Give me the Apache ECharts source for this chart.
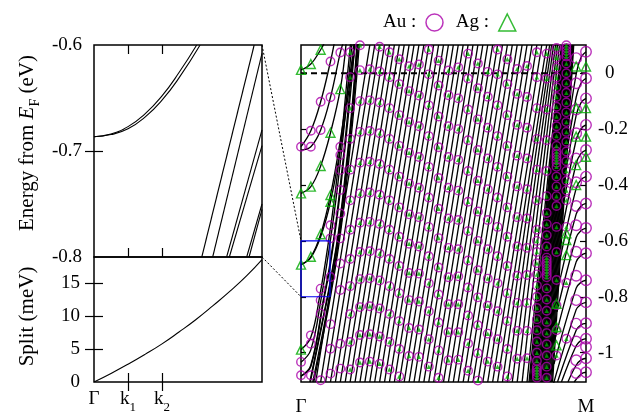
<!DOCTYPE html>
<html><head><meta charset="utf-8">
<script src="https://cdn.jsdelivr.net/npm/echarts@6/dist/echarts.min.js"></script>
<style>html,body{margin:0;padding:0;background:#fff}#c{width:644px;height:420px}</style>
</head><body><div id="c"></div>
<script>
// ================= DATA =================
// Left panels: k in units of k1 (Γ=0, k1=1, k2=2)
const leftK = {min: 0, max: 4.94};
const leftXTicks = [0, 1, 2];
const leftXLabels = ['Γ', 'k1', 'k2'];
const zoomE = {min: -0.8, max: -0.6};
const zoomETicks = [-0.8, -0.7, -0.6];
const zoomBandA = [[0,-0.6865],[0.5,-0.684],[1,-0.677],[1.5,-0.665],[2,-0.648],[2.5,-0.626],[3.02,-0.6]];
const zoomBandB = [[0,-0.6865],[0.5,-0.6845],[1,-0.679],[1.5,-0.668],[2,-0.652],[2.5,-0.631],[3.12,-0.6]];
const zoomSteep = [
  [[3.17,-0.8],[4.71,-0.6]],
  [[3.49,-0.8],[4.94,-0.608]],
  [[3.90,-0.8],[4.94,-0.680]],
  [[3.98,-0.8],[4.94,-0.695]],
  [[4.49,-0.8],[4.94,-0.750]],
  [[4.56,-0.8],[4.94,-0.755]]
];
const splitRange = {min: 0, max: 19};
const splitTicks = [0, 5, 10, 15];
const splitCurve = [[0,0],[0.5,1.3],[1,2.7],[1.5,4.2],[2,5.8],[2.5,7.6],[3,9.5],[3.5,11.6],[4,13.8],[4.5,16.2],[4.94,18.6]];

// Right panel: k in k-grid columns (Γ=0 ... M=29)
const bigK = {min: 0, max: 29};
const bigKTicks = [0, 29];
const bigKLabels = ['Γ', 'M'];
const bigE = {min: -1.105, max: 0.101};
const bigETicks = [-1, -0.8, -0.6, -0.4, -0.2, 0];
const zoomBox = {k: [0, 2.95], e: [-0.8, -0.6]};
const fermi = [[0, 0], [29, 0]];

// bands with minima at Γ
const gammaBands = [
  [[0,-0.685],[1,-0.657],[2,-0.576],[3,-0.436],[4,-0.24],[5,0.0],[5.5,0.12]],
  [[0,-0.685],[1,-0.66],[2,-0.585],[3,-0.46],[4,-0.27],[5,-0.03],[5.6,0.12]],
  [[0,-0.430],[1,-0.406],[2,-0.332],[3,-0.213],[4,-0.057],[4.6,0.11]],
  [[0,0.012],[1,0.033],[2,0.084],[2.4,0.11]],
  [[0,-0.263],[1,-0.206],[2,-0.102],[3,0.042],[3.4,0.11]],
  [[0,-0.275],[1,-0.263],[2,-0.203],[3,-0.086],[4,0.074],[4.3,0.11]],
  [[0,-0.989],[1,-0.945],[1.89,-0.8],[2.81,-0.6],[3.5,-0.42],[4.2,-0.2],[4.8,0.02],[5.05,0.11]],
  [[0,-1.034],[1,-0.99],[2.08,-0.8],[2.95,-0.608],[3.6,-0.44],[4.3,-0.22],[4.9,0.0],[5.2,0.11]],
  [[0,-1.084],[1,-1.045],[2.33,-0.8],[2.95,-0.68],[3.6,-0.52],[4.4,-0.27],[5.0,-0.05],[5.4,0.11]],
  [[0,-1.084],[1,-1.05],[2.38,-0.8],[2.95,-0.695],[3.7,-0.51],[4.5,-0.26],[5.1,-0.05],[5.5,0.11]],
  [[0.9,-1.105],[2.68,-0.8],[2.95,-0.75],[3.8,-0.57],[4.6,-0.33],[5.2,-0.12],[5.7,0.11]],
  [[0.95,-1.105],[2.72,-0.8],[2.95,-0.755],[3.85,-0.57],[4.65,-0.33],[5.25,-0.12],[5.75,0.11]],
  [[1.2,-1.105],[3.0,-0.78],[4.0,-0.55],[4.8,-0.3],[5.4,-0.08],[5.85,0.11]],
  [[1.3,-1.105],[3.1,-0.78],[4.1,-0.55],[4.9,-0.3],[5.5,-0.08],[5.95,0.11]]
];
// straight folded bands: column where each crosses the bottom edge and the top edge
const diagBottom = [1.5,2.0,2.5,3.0,3.5,4.0,4.5,5.0,5.5,6.0,6.5,7.0,7.5,8.0,8.5,9.0,9.5,10.0,10.5,11.0,11.5,12.0,12.5,13.0,13.5,14.0,14.5,15.0,15.5,16.0,16.5,17.0,17.5,18.0,18.5,19.0,19.5,
  20.0,20.5,21.0,21.5,22.0,22.5,23.0,
  23.2,23.3,23.4,23.5,23.6,23.7,23.8,23.9,24.0,24.1,24.2,24.3,24.4,24.5,24.6,24.7,24.8,24.9,25.0,25.1,25.2,25.3,25.4,25.5,25.6];
const diagTop = [7.0,7.5,8.0,8.5,9.0,9.5,10.0,10.5,11.0,11.5,12.0,12.5,13.0,13.5,14.0,14.5,15.0,15.5,16.0,16.5,17.0,17.5,18.0,18.5,19.0,19.5,20.0,20.5,21.0,21.5,22.0,22.5,23.0,23.5,24.0,24.5,25.0,
  25.3,25.5,25.7,25.9,26.1,26.3,26.5,
  26.55,26.6,26.65,26.7,26.75,26.8,26.85,26.9,26.95,27.0,27.05,27.1,27.15,27.2,27.25,27.3,27.35,27.4,27.45,27.5,27.55,27.6,27.65,27.7,27.75];
// bands bending to a flat top at M
const mBands = [
  [[27.05,-0.223],[28,-0.003],[28.5,0.057],[29,0.077]],
  [[26.9,-0.318],[28,-0.086],[28.5,-0.035],[29,-0.018]],
  [[26.78,-0.39],[28,-0.151],[28.5,-0.105],[29,-0.09]],
  [[26.63,-0.485],[28,-0.238],[28.5,-0.198],[29,-0.185]],
  [[26.49,-0.575],[28,-0.323],[28.5,-0.287],[29,-0.275]],
  [[26.34,-0.67],[28,-0.412],[28.5,-0.381],[29,-0.37]],
  [[26.18,-0.766],[28,-0.504],[28.5,-0.475],[29,-0.466]],
  [[26.04,-0.854],[28,-0.588],[28.5,-0.563],[29,-0.554]],
  [[25.9,-0.944],[28,-0.675],[28.5,-0.652],[29,-0.644]],
  [[25.74,-1.041],[28,-0.769],[28.5,-0.748],[29,-0.741]],
  [[25.62,-1.12],[28,-0.846],[28.5,-0.827],[29,-0.82]],
  [[26.1,-1.105],[28,-0.92],[28.5,-0.9],[29,-0.895]],
  [[26.5,-1.105],[28,-0.975],[28.5,-0.956],[29,-0.95]],
  [[27.16,-1.105],[28,-1.045],[28.5,-1.026],[29,-1.02]],
  [[27.8,-1.105],[28.5,-1.076],[29,-1.07]]
];

// Au-weighted states (circles): per k column, energies
const auColumns = [
  [0, [-0.263,-1.033,-1.081]],
  [1, [-0.263,-0.206,-0.938,-0.968,-1.081]],
  [2, [-0.203,-0.102,-0.771,-0.812,-0.86,-1.099]],
  [3, [0.042,-0.086,-0.544,-0.591,-0.729,-0.898,-0.986,-1.075]],
  [4, [0.074,-0.263,-0.293,-0.346,-0.418,-0.502,-0.591,-0.681,-0.776,-0.968,-1.057]],
  [5, [0.075,-0.014,-0.125,-0.235,-0.345,-0.455,-0.56,-0.665,-0.762,-0.862,-0.962,-1.06]],
  [6, [0.1,0.011,-0.1,-0.21,-0.32,-0.43,-0.535,-0.64,-0.737,-0.837,-0.937,-1.035]],
  [7, [0.014,-0.097,-0.207,-0.317,-0.427,-0.532,-0.637,-0.734,-0.834,-0.934,-1.032]],
  [8, [0.095,0.006,-0.105,-0.215,-0.325,-0.435,-0.54,-0.645,-0.742,-0.842,-0.942,-1.04]],
  [9, [0.075,-0.014,-0.125,-0.235,-0.345,-0.455,-0.56,-0.665,-0.762,-0.862,-0.962,-1.06]],
  [10, [0.05,-0.039,-0.15,-0.26,-0.37,-0.48,-0.585,-0.69,-0.787,-0.887,-0.987,-1.085]],
  [11, [0.025,-0.064,-0.175,-0.285,-0.395,-0.505,-0.61,-0.715,-0.812,-0.912,-1.012]],
  [12, [0.031,-0.08,-0.19,-0.3,-0.41,-0.515,-0.62,-0.717,-0.817,-0.917,-1.015]],
  [13, [0.085,-0.004,-0.115,-0.225,-0.335,-0.445,-0.55,-0.655,-0.752,-0.852,-0.952,-1.05]],
  [14, [0.045,-0.044,-0.155,-0.265,-0.375,-0.485,-0.59,-0.695,-0.792,-0.892,-0.992,-1.09]],
  [15, [0.01,-0.079,-0.19,-0.3,-0.41,-0.52,-0.625,-0.73,-0.827,-0.927,-1.027]],
  [16, [0.021,-0.09,-0.2,-0.31,-0.42,-0.525,-0.63,-0.727,-0.827,-0.927,-1.025]],
  [17, [0.07,-0.019,-0.13,-0.24,-0.35,-0.46,-0.565,-0.67,-0.767,-0.867,-0.967,-1.065]],
  [18, [0.035,-0.054,-0.165,-0.275,-0.385,-0.495,-0.6,-0.705,-0.802,-0.902,-1.002,-1.1]],
  [19, [0.005,-0.084,-0.195,-0.305,-0.415,-0.525,-0.63,-0.735,-0.832,-0.932,-1.032]],
  [20, [0.085,-0.004,-0.115,-0.225,-0.335,-0.445,-0.55,-0.655,-0.752,-0.852,-0.952,-1.05]],
  [21, [0.05,-0.039,-0.15,-0.26,-0.37,-0.48,-0.585,-0.69,-0.787,-0.887,-0.987,-1.085]],
  [22, [0.015,-0.074,-0.185,-0.295,-0.405,-0.515,-0.62,-0.725,-0.822,-0.922,-1.022]],
  [23, [0.026,-0.085,-0.195,-0.305,-0.415,-0.52,-0.625,-0.722,-0.822,-0.922,-1.02]],
  [24, [0.075,-0.014,-0.125,-0.235,-0.345,-0.455,-0.56,-0.6,-0.64,-0.68,-0.72,-0.76,-0.8,-0.84,-0.88,-0.92,-0.96,-1.0,-1.03,-1.05,-1.06,-1.07,-1.08,-1.09]],
  [25, [0.07,-0.02,-0.13,-0.24,-0.35,-0.44,-0.5,-0.54,-0.58,-0.62,-0.66,-0.67,-0.68,-0.69,-0.7,-0.71,-0.72,-0.73,-0.77,-0.81,-0.85,-0.89,-0.93,-0.97,-1.01,-1.05,-1.09]],
  [26, [0.09,0.055,0.02,-0.015,-0.05,-0.085,-0.12,-0.155,-0.19,-0.225,-0.26,-0.28,-0.29,-0.3,-0.31,-0.32,-0.335,-0.37,-0.405,-0.44,-0.475,-0.55,-0.64,-0.74,-0.83,-0.92,-1.01]],
  [27, [0.1,0.09,0.08,0.07,0.06,0.035,0.0,-0.035,-0.07,-0.105,-0.14,-0.175,-0.21,-0.245,-0.28,-0.315,-0.35,-0.385,-0.42,-0.455,-0.55,-0.75,-0.95]],
  [28, [0.054,-0.036,-0.13,-0.215,-0.305,-0.39,-0.475,-0.544,-0.639,-0.725,-0.812,-0.896,-0.96,-1.027,-1.073]],
  [29, [0.077,-0.018,-0.09,-0.185,-0.275,-0.37,-0.466,-0.554,-0.644,-0.741,-0.82,-0.895,-0.95,-0.98,-1.02,-1.07]]
];
// columns where the Au circles also carry a small Ag weight marker
const agSmallCols = [5,6,7,8,9,10,11,12,13,14,15,16,17,18,19,20,21,22,23,24,25,26,27];
// Ag-dominated states (large open triangles)
const agTriangles = [[0,0.012],[1,0.033],[2,0.084],[0,-0.430],[1,-0.406],[2,-0.332],[3,-0.213],[4,-0.057],
  [0,-0.685],[1,-0.657],[2,-0.576],[3,-0.436],[3,-0.46],[0,-0.989],
  [28,0.024],[29,0.024],[28,-0.125],[29,-0.125],[28,-0.227],[29,-0.227],[29,-0.299],[28,-0.329],[28,-0.4],
  [27,-0.573],[27,-0.597],[27,-0.651],[26,-0.825],[26,-0.908],[26,-0.974]];

// ================= CHART =================
const FONT = 'Liberation Serif';
const MAG = '#aa00aa', GRN = '#00aa00';
const chart = echarts.init(document.getElementById('c'));
const noLine = {show: false};
const tick = (vals, len) => ({show: true, inside: true, length: len, customValues: vals, lineStyle: {color: '#000', width: 1.2}});
const noLabel = {show: false};

const grids = [
  {left: 94, top: 45, width: 168, height: 212},
  {left: 94, top: 257, width: 168, height: 125},
  {left: 301, top: 45, width: 285, height: 337}
].map(g => Object.assign(g, {show: true, borderColor: '#000', borderWidth: 1.5, backgroundColor: 'transparent', containLabel: false}));

const xAxes = [
  {gridIndex: 0, type: 'value', min: leftK.min, max: leftK.max, position: 'bottom', axisLine: noLine, splitLine: noLine, axisTick: tick([1,2], 9), axisLabel: noLabel},
  {gridIndex: 0, type: 'value', min: leftK.min, max: leftK.max, position: 'top', axisLine: noLine, splitLine: noLine, axisTick: tick([1,2], 9), axisLabel: noLabel},
  {gridIndex: 1, type: 'value', min: leftK.min, max: leftK.max, position: 'bottom', axisLine: noLine, splitLine: noLine, axisTick: tick([1,2], 9),
    axisLabel: {show: true, customValues: leftXTicks, margin: 8, fontFamily: FONT, fontSize: 19, color: '#000',
      formatter: v => { const s = leftXLabels[leftXTicks.indexOf(v)]; return s.length > 1 ? '{k|' + s[0] + '}{s|' + s.slice(1) + '}' : '{k|' + s + '}'; },
      rich: {k: {fontFamily: FONT, fontSize: 19, color: '#000', verticalAlign: 'top', lineHeight: 24}, s: {fontFamily: FONT, fontSize: 13, color: '#000', verticalAlign: 'bottom', lineHeight: 24}}}},
  {gridIndex: 1, type: 'value', min: leftK.min, max: leftK.max, position: 'top', axisLine: noLine, splitLine: noLine, axisTick: tick([1,2], 9), axisLabel: noLabel},
  {gridIndex: 2, type: 'value', min: bigK.min, max: bigK.max, position: 'bottom', axisLine: noLine, splitLine: noLine, axisTick: {show: false},
    axisLabel: {show: true, customValues: bigKTicks, margin: 16, fontFamily: FONT, fontSize: 19, color: '#000', formatter: v => bigKLabels[bigKTicks.indexOf(v)]}}
];
const yAxes = [
  {gridIndex: 0, type: 'value', min: zoomE.min, max: zoomE.max, position: 'left', axisLine: noLine, splitLine: noLine, axisTick: tick([-0.7], 9),
    axisLabel: {show: true, customValues: zoomETicks, margin: 12, fontFamily: FONT, fontSize: 19, color: '#000', formatter: v => v.toFixed(1)}},
  {gridIndex: 0, type: 'value', min: zoomE.min, max: zoomE.max, position: 'right', axisLine: noLine, splitLine: noLine, axisTick: tick([-0.7], 9), axisLabel: noLabel},
  {gridIndex: 1, type: 'value', min: splitRange.min, max: splitRange.max, position: 'left', axisLine: noLine, splitLine: noLine, axisTick: tick([5,10,15], 9),
    axisLabel: {show: true, customValues: splitTicks, margin: 14, fontFamily: FONT, fontSize: 19, color: '#000', formatter: v => String(v)}},
  {gridIndex: 1, type: 'value', min: splitRange.min, max: splitRange.max, position: 'right', axisLine: noLine, splitLine: noLine, axisTick: tick([5,10,15], 9), axisLabel: noLabel},
  {gridIndex: 2, type: 'value', min: bigE.min, max: bigE.max, position: 'left', axisLine: noLine, splitLine: noLine, axisTick: tick(bigETicks, 5), axisLabel: noLabel},
  {gridIndex: 2, type: 'value', min: bigE.min, max: bigE.max, position: 'right', axisLine: noLine, splitLine: noLine, axisTick: tick(bigETicks, 6),
    axisLabel: {show: true, customValues: bigETicks, margin: 12, align: 'left', fontFamily: FONT, fontSize: 19, color: '#000',
      formatter: v => Math.abs(v) < 1e-9 ? '{p|0}' : String(+v.toFixed(1)), rich: {p: {fontFamily: FONT, fontSize: 19, color: '#000', padding: [0,0,0,7]}}}}
];

const series = [];
const lineS = (data, xi, yi, extra) => Object.assign({type: 'line', xAxisIndex: xi, yAxisIndex: yi, data: data, showSymbol: false, symbol: 'none', silent: true,
  lineStyle: {color: '#000', width: 1.1}, z: 2, animation: false}, extra || {});
const bandStyle = {color: '#000', width: 1.35};

series.push(lineS(zoomBandA, 0, 0, {smooth: true}));
series.push(lineS(zoomBandB, 0, 0, {smooth: true}));
zoomSteep.forEach(d => series.push(lineS(d, 0, 0)));
series.push(lineS(splitCurve, 2, 2, {smooth: true}));

gammaBands.forEach(d => series.push(lineS(d, 4, 4, {smooth: 0.4, lineStyle: bandStyle})));
diagBottom.forEach((b, i) => series.push(lineS([[b, bigE.min], [diagTop[i], bigE.max]], 4, 4, {lineStyle: bandStyle})));
mBands.forEach(d => series.push(lineS(d, 4, 4, {smooth: 0.4, lineStyle: bandStyle})));
series.push(lineS(fermi, 4, 4, {lineStyle: {color: '#000', width: 2, type: [6, 4]}, z: 3}));
series.push(lineS([[zoomBox.k[0], zoomBox.e[0]], [zoomBox.k[1], zoomBox.e[0]], [zoomBox.k[1], zoomBox.e[1]], [zoomBox.k[0], zoomBox.e[1]], [zoomBox.k[0], zoomBox.e[0]]], 4, 4,
  {lineStyle: {color: '#0000ee', width: 1.2}, z: 8}));

const auPts = [], agSmallPts = [];
auColumns.forEach(([c, es]) => es.forEach(e => {
  auPts.push({value: [c, e], symbolSize: c >= 28 ? 10.5 : 8.5});
  if (agSmallCols.indexOf(c) >= 0) agSmallPts.push([c, e]);
}));
series.push({name: 'Au', type: 'scatter', xAxisIndex: 4, yAxisIndex: 4, data: auPts, symbol: 'circle', symbolSize: 8.5,
  itemStyle: {color: 'transparent', borderColor: MAG, borderWidth: 1.4}, z: 6, silent: true, animation: false});
series.push({name: 'AgSmall', type: 'scatter', xAxisIndex: 4, yAxisIndex: 4, data: agSmallPts, symbol: 'triangle', symbolSize: 4.5,
  itemStyle: {color: GRN}, z: 7, silent: true, animation: false});
series.push({name: 'Ag', type: 'scatter', xAxisIndex: 4, yAxisIndex: 4, data: agTriangles, symbol: 'triangle', symbolSize: 9,
  itemStyle: {color: 'transparent', borderColor: GRN, borderWidth: 1.4}, z: 7, silent: true, animation: false});

chart.setOption({
  animation: false,
  grid: grids, xAxis: xAxes, yAxis: yAxes, series: series,
  legend: {
    left: 378, top: 8, align: 'right', itemWidth: 17, itemHeight: 17, itemGap: 12, selectedMode: false,
    textStyle: {fontFamily: FONT, fontSize: 19, color: '#000'},
    formatter: n => n + ' : ',
    data: [
      {name: 'Au', icon: 'circle', itemStyle: {color: 'transparent', borderColor: MAG, borderWidth: 1.5}},
      {name: 'Ag', icon: 'triangle', itemStyle: {color: 'transparent', borderColor: GRN, borderWidth: 1.5}}
    ]
  }
});

function px(gi, pt) { return chart.convertToPixel({gridIndex: gi}, pt); }
const tl = px(0, [leftK.max, zoomE.max]);
const bl = px(0, [leftK.max, zoomE.min]);
const bt = px(2, [zoomBox.k[0], zoomBox.e[1]]);
const bb = px(2, [zoomBox.k[0], zoomBox.e[0]]);
const eTop = px(0, [0, zoomE.max]), eBot = px(0, [0, zoomE.min]);
const sTop = px(1, [0, splitRange.max]), sBot = px(1, [0, splitRange.min]);
chart.setOption({
  graphic: [
    {type: 'line', shape: {x1: tl[0], y1: tl[1], x2: bt[0], y2: bt[1]}, style: {stroke: '#000', lineWidth: 1, lineDash: [2, 2]}, z: 10},
    {type: 'line', shape: {x1: bl[0], y1: bl[1], x2: bb[0], y2: bb[1]}, style: {stroke: '#000', lineWidth: 1, lineDash: [2, 2]}, z: 10},
    {type: 'text', x: 27, y: (eTop[1] + eBot[1]) / 2 - 8, rotation: Math.PI / 2,
      style: {text: 'Energy from {i|E}{s|F} (eV)', fontFamily: FONT, fontSize: 21, fill: '#000', align: 'center', verticalAlign: 'middle',
        rich: {i: {fontFamily: FONT, fontStyle: 'italic', fontSize: 21, fill: '#000'}, s: {fontFamily: FONT, fontSize: 14, fill: '#000', verticalAlign: 'bottom', lineHeight: 30}}}},
    {type: 'text', x: 27, y: (sTop[1] + sBot[1]) / 2 - 3, rotation: Math.PI / 2,
      style: {text: 'Split (meV)', fontFamily: FONT, fontSize: 21, fill: '#000', align: 'center', verticalAlign: 'middle'}}
  ]
});
</script>
</body></html>
